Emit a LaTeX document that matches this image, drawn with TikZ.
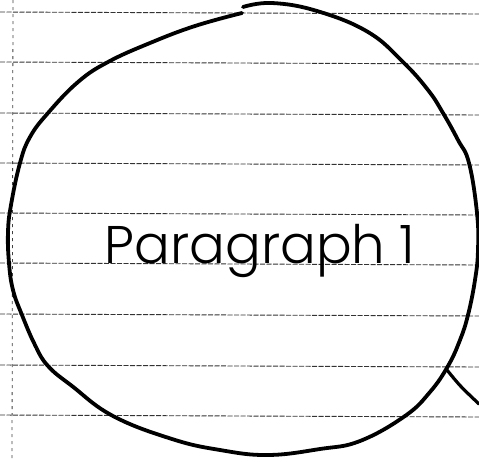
\documentclass[tikz,border=0pt]{standalone}
\usepackage{fontspec}
\newfontfamily\handfont{Poppins Light}
\usetikzlibrary{positioning}

\begin{document}
\begin{tikzpicture}[x=1pt, y=-1pt,
    ruled/.style={black!80, line width=0.9pt, dash pattern=on 5pt off 1.5pt},
    margin/.style={black!75, line width=0.8pt, dash pattern=on 3pt off 4pt},
    pen/.style={black, line width=3.8pt, line cap=round, line join=round}]
  \useasboundingbox (0,0) rectangle (479,461);
  % ruled paper
  \foreach \y in {12,62,113,163,213,263,314,365,415}
    \draw[ruled] (0,\y) -- (479,\y+2);
  \draw[margin] (13,0) -- (12,461);

  % the circle
  \draw[pen] plot[smooth, tension=0.7] coordinates {
    (243,7) (272,3) (317,11) (368,32) (403,62) (428,90) (443,113) (458,140)
    (469,163) (477,213) (478,250) (475,280) (468,315) (460,340) (448,366)
    (430,392) (405,416) (360,441) (320,449) (268,455) (220,450) (172,439)
    (113,416) (72,386) (48,366) (35,345) (22,315) (13,290) (9,263) (8,232)
    (11,205) (20,163) (30,137) (48,113) (78,82) (108,62) (150,43) (195,26)
    (242,13)};

  % label
  \node[anchor=base, inner sep=0pt, font=\handfont\fontsize{53}{64}\selectfont] (label) at (260,263) {Paragraph 1};

  % tail
  \coordinate (tail) at (447,370);
  \coordinate (tailend) at (479,404);
  \draw[pen, line width=3.2pt] (tail) .. controls (460,386) .. (tailend);
\end{tikzpicture}
\end{document}
